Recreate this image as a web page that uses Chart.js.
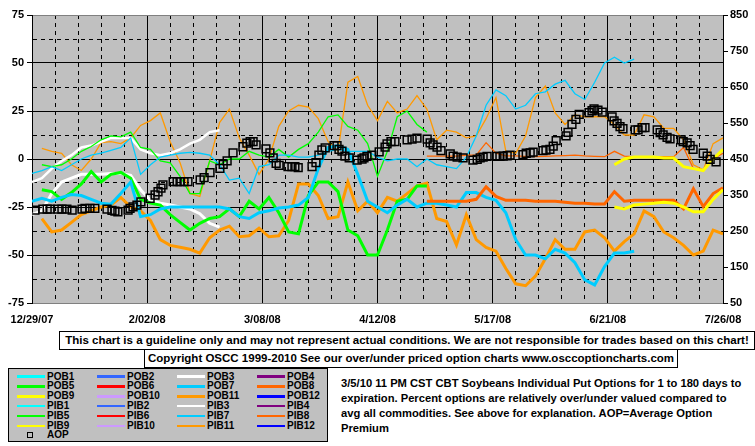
<!DOCTYPE html>
<html lang="en">
<head>
  <meta charset="UTF-8" />
  <title>CBT Soybeans Individual Put Options</title>
  <script src="https://cdn.jsdelivr.net/npm/chart.js"></script>
  <style>
    body {
      margin: 0;
      background: #fff;
      font-family: "Liberation Sans", Arial, sans-serif;
      font-weight: bold;
      color: #000;
    }
    #wrap {
      position: relative;
      width: 755px;
      height: 446px;
      overflow: hidden;
    }
    #chart {
      position: absolute;
      left: 0;
      top: 0;
    }
    .box {
      position: absolute;
      box-sizing: border-box;
      border: 1px solid #000;
      background: #fff;
      font-size: 11.5px;
      line-height: 17px;
      white-space: nowrap;
      text-align: center;
    }
    #legend {
      position: absolute;
      left: 8px;
      top: 368px;
      width: 320px;
      height: 74px;
      box-sizing: border-box;
      border: 1px solid #000;
      background: #c0c0c0;
    }
    .lg-text {
      position: absolute;
      font-size: 10px;
      line-height: 10px;
      white-space: nowrap;
    }
    .lg-line, .lg-box {
      position: absolute;
    }
    #desc {
      position: absolute;
      left: 341px;
      top: 376px;
      font-size: 11.2px;
      line-height: 15px;
      white-space: nowrap;
    }
  </style>
</head>
<body>
  <div id="wrap">
    <canvas id="chart" width="755" height="330"></canvas>
    <div class="box" style="left:59px; top:331px; width:696px; height:19px;">This chart is a guideline only and may not represent actual conditions. We are not responsible for trades based on this chart!</div>
    <div class="box" style="left:144px; top:349px; width:534px; height:19px;">Copyright OSCC 1999-2010 See our over/under priced option charts www.osccoptioncharts.com</div>
    <div id="legend"></div>
    <div id="desc">3/5/10 11 PM CST CBT Soybeans Individual Put Options for 1 to 180 days to<br>expiration. Percent options are relatively over/under valued compared to<br>avg all commodities. See above for explanation. AOP=Average Option<br>Premium</div>
  </div>

  <script>
    // days since 12/29/07, one sample every 3 days
    const days = [0, 3, 6, 9, 12, 15, 18, 21, 24, 27, 30, 33, 36, 39, 42, 45, 48, 51, 54, 57,
      60, 63, 66, 69, 72, 75, 78, 81, 84, 87, 90, 93, 96, 99, 102, 105, 108, 111, 114, 117,
      120, 123, 126, 129, 132, 135, 138, 141, 144, 147, 150, 153, 156, 159, 162, 165, 168, 171, 174, 177,
      180, 183, 186, 189, 192, 195, 198, 201, 204, 207, 210];

    const weekTicks = [0, 7, 14, 21, 28, 35, 42, 49, 56, 63, 70, 77, 84, 91, 98, 105, 112, 119,
      126, 133, 140, 147, 154, 161, 168, 175, 182, 189, 196, 203, 210];
    const dateLabels = ['12/29/07', '2/02/08', '3/08/08', '4/12/08', '5/17/08', '6/21/08', '7/26/08'];
    const leftTicks = [-75, -62.5, -50, -37.5, -25, -12.5, 0, 12.5, 25, 37.5, 50, 62.5, 75];
    const rightTicks = [50, 150, 250, 350, 450, 550, 650, 750, 850];

    // percent over/under valued, each list starts at the given day
    const pob3Start = 0;
    const pob3 = [-29, -27, -18, -12, -10, -8, -8, -8, -7.5, -7.5, -8.5, -16, -21.5, -23, -24, -25, -26, -28.5, -33.5, -35.5];
    const pib3Start = 0;
    const pib3 = [-12, -10, -5, -1, 2, 6, 7, 9, 11, 11, 11, 5, 3, 2, 3, 5, 8, 10, 14, 15];

    const pob5Start = 3;
    const pob5 = [-16, -17, -21, -17.5, -13, -6.5, -12, -8, -7, -10, -21, -23, -24, -29, -33, -37, -33.5, -31, -30, -26,
      -30, -22, -26, -20, -28, -38, -39, -19, -12, -12, -17, -37, -40, -50, -50, -37, -22, -21, -14, -14];
    const pib5Start = 3;
    const pib5 = [-3, -4, -3, 0, 4, 6.5, 10, 12, 11.5, 14, 6, 5, -1, -2, -9, -18, -18, -1, -3, 0,
      0, 4, 2, 1, 5, 1, 5, 8, 14, 22, 23, 17, 15, 8, -9, 4, 22, 25, 18, 14];

    const pob7Start = 0;
    const pob7 = [-22, -20.5, -22, -20, -18.5, -19, -21, -23, -23.5, -18, -12, -30, -29, -26, -25, -25, -25, -25, -25, -25,
      -26, -30, -31, -28, -27, -25.5, -25, -24, -20, -5, 6, 7, 5, -8, -22, -25, -28, -24, -21, -25,
      -23, -23, -24, -25, -17.5, -17.5, -20, -21.5, -28, -42, -50, -50, -52, -47, -49, -54, -63, -65.6, -56, -49,
      -49, -48];
    const pib7Start = 0;
    const pib7 = [-7.5, -6, -4, -6, -3, 0, 2, 3, 4.5, 6, 11, -8, -3, 1, 2, 3, 3.5, 3, 2, -3,
      -11, -10, -18, -4, -3, 2, 2, 1, 1, 2, 4, 5, 4, 4, 4, 1, -1, 0, 0, -4,
      0, -3, -4, -5, 1, 12, 28, 36, 33, 26, 28, 34, 35, 39, 41, 34, 31, 40, 50, 53,
      50, 52];

    const pob8Start = 120;
    const pob8 = [-22, -22, -22, -22, -22, -21, -14.5, -19.5, -21.5, -21.5, -21.5, -22, -22, -22, -22.5, -23, -23, -23.4, -23.4, -17,
      -22, -21.5, -21.5, -21.5, -21.5, -21.5, -26, -15.5, -24.8, -18, -15];
    const pib8Start = 120;
    const pib8 = [1.5, 1.5, 1.5, 1.5, 2, 2, 8.5, 3, 1.6, 1.6, 1.4, 1.2, 1.4, 1.6, 1.8, 2, 1.6, 1.4, 1.2, 4,
      1.5, 1.2, 1.2, 1.2, 1.2, 1.2, 6, -5, -6, 0, 3];

    const pob9Start = 177;
    const pob9 = [-25, -26, -24, -23.5, -23, -22.5, -23, -25, -27.5, -27.5, -21, -16];
    const pib9Start = 177;
    const pib9 = [-3, 0, 1, 1, 1, 0.5, 0.5, -4, -5, -6, 0, 5];

    const pob11Start = 3;
    const pob11 = [-31, -38, -37, -33, -29, -27, -25, -24, -20, -25, -27, -32, -42, -45, -46, -47, -49, -41, -37, -35,
      -40.5, -40, -36, -40.5, -40, -32, -13, -13, -19, -31, -30, -12, -27, -22, -28, -20, -22, -18, -14, -12.5,
      -31, -32.6, -44.8, -29, -42, -46, -48, -57, -65, -66, -61, -52, -42, -47, -47, -38, -37, -41, -48, -43,
      -39, -27, -30, -38, -41, -45, -50, -48, -37, -39];
    const pib11Start = 3;
    const pib11 = [5.5, 4, 3, -3, -6, 0, 8.5, 9, 8, 11, 17.5, 20, 24, 9, -2, -18, -19.5, -1, 19, 26,
      11, 2, -8, 0, 17, 25, 28, 27, 21, 9, 4, 40, 43, 28, 20, 30, 24, 26, 33, 26,
      10, 15, 14, 11, 12, 21, 32, 4, 3, 12, 32, 38, 24, 18, 23, 22, 22, 22, 18, 12.5,
      12.5, 23, 22, 16, 16, 10, -3, -5.7, 8, 11];

    // average option premium (right axis)
    const aopDays = [0.9, 3.3, 4.6, 5.5, 7.9, 9.1, 10.6, 12.2, 15.2, 16.1,
      17.6, 19.1, 22.8, 24.3, 25.2, 26.1, 29.2, 29.8, 30.7, 31.9,
      33.1, 35.9, 37.4, 38.3, 39.2, 39.8, 42.9, 44.1, 45, 46.2,
      47.4, 51.1, 52.3, 54.1, 57.1, 58.1, 59.3, 61.1, 64.1, 65.3,
      66.3, 67.2, 68.1, 71.1, 72.3, 73.3, 74.2, 75.1, 77.8, 79,
      79.9, 80.9, 85.1, 86.3, 87.2, 88.1, 89.1, 91.8, 92.7, 93.3,
      94.2, 95.1, 96.4, 98.8, 100.3, 100.9, 101.8, 103.3, 105.5, 107.3,
      107.9, 109.1, 110.3, 114, 115.5, 117, 120.1, 121, 121.9, 123.1,
      124.3, 127.1, 128, 129.2, 131, 134, 135.3, 136.2, 137.1, 138.3,
      141.3, 142.2, 143.2, 144.4, 145.3, 149.2, 150.2, 151.4, 152.3, 155.3,
      156.2, 157.4, 158.4, 159.3, 162.3, 162.9, 164.1, 165.3, 166.3, 169.3,
      170.2, 170.8, 172, 173.3, 176.3, 176.9, 177.8, 178.7, 179.6, 183.3,
      184.2, 185.4, 186.3, 190, 190.9, 191.8, 193, 193.9, 197.3, 197.9,
      199.1, 200, 200.9, 204, 205.2, 206.1, 207.9];
    const aopValues = [308, 311, 311, 311, 311, 311, 311, 308, 311, 313,
      313, 313, 311, 307, 305, 303, 308, 313, 317, 322,
      331, 341, 350, 359, 369, 378, 387, 387, 387, 387,
      387, 392, 398, 412, 424, 435, 445, 467, 484, 494,
      498, 498, 489, 478, 467, 453, 438, 432, 429, 429,
      429, 426, 429, 440, 461, 475, 481, 487, 487, 477,
      472, 458, 453, 447, 450, 453, 457, 461, 470, 483,
      492, 498, 498, 503, 505, 508, 505, 495, 489, 483,
      473, 464, 458, 455, 453, 447, 449, 453, 455, 457,
      457, 457, 458, 459, 461, 462, 466, 467, 469, 473,
      475, 477, 486, 501, 514, 524, 546, 560, 574, 579,
      584, 589, 586, 580, 567, 556, 549, 540, 534, 531,
      531, 537, 537, 531, 523, 517, 510, 506, 503, 498,
      495, 487, 477, 466, 458, 449, 442];

    // colours for series 1..12 (POBn thick, PIBn thin)
    const lineColors = ['#00FFFF', '#3366FF', '#FFFFFF', '#800080', '#00FF00', '#FF0000',
      '#00CCFF', '#FF6600', '#FFFF00', '#CC99FF', '#FF9900', '#0000FF'];

    function seriesPoints(startDay, values) {
      const i0 = days.indexOf(startDay);
      return values.map((v, i) => ({ x: days[i0 + i], y: v }));
    }

    function lineSet(label, n, startDay, values, width) {
      return {
        label: label,
        data: seriesPoints(startDay, values),
        borderColor: lineColors[n - 1],
        backgroundColor: lineColors[n - 1],
        borderWidth: width,
        pointRadius: 0,
        tension: 0,
        spanGaps: false,
        yAxisID: 'y'
      };
    }

    const datasets = [
      {
        label: 'AOP',
        data: aopDays.map((d, i) => ({ x: d, y: aopValues[i] })),
        yAxisID: 'yR',
        showLine: false,
        pointStyle: 'rect',
        pointRadius: 5.5,
        borderWidth: 1.5,
        borderColor: '#000',
        backgroundColor: 'rgba(0,0,0,0)'
      },
      lineSet('PIB9', 9, pib9Start, pib9, 3),
      lineSet('POB9', 9, pob9Start, pob9, 3),
      lineSet('PIB8', 8, pib8Start, pib8, 1.3),
      lineSet('POB8', 8, pob8Start, pob8, 3),
      lineSet('PIB7', 7, pib7Start, pib7, 1.3),
      lineSet('POB7', 7, pob7Start, pob7, 3),
      lineSet('PIB5', 5, pib5Start, pib5, 1.3),
      lineSet('POB5', 5, pob5Start, pob5, 3),
      lineSet('PIB3', 3, pib3Start, pib3, 2.5),
      lineSet('POB3', 3, pob3Start, pob3, 3),
      lineSet('PIB11', 11, pib11Start, pib11, 1.3),
      lineSet('POB11', 11, pob11Start, pob11, 3)
    ];

    const tickFont = { family: '"Liberation Sans", Arial, sans-serif', size: 11, weight: 'bold' };

    const plotBackground = {
      id: 'plotBackground',
      beforeDraw(chart) {
        const { ctx, chartArea: a } = chart;
        ctx.save();
        ctx.fillStyle = '#C0C0C0';
        ctx.fillRect(a.left, a.top, a.right - a.left, a.bottom - a.top);
        ctx.restore();
      }
    };

    new Chart(document.getElementById('chart'), {
      type: 'line',
      data: { datasets: datasets },
      plugins: [plotBackground],
      options: {
        responsive: false,
        animation: false,
        devicePixelRatio: 1,
        layout: { padding: { top: 15, left: 0, right: 0, bottom: 0 } },
        plugins: {
          legend: { display: false },
          tooltip: { enabled: false }
        },
        scales: {
          x: {
            type: 'linear',
            min: 0,
            max: 210,
            afterBuildTicks: s => { s.ticks = weekTicks.map(v => ({ value: v })); },
            afterFit: s => { s.height = 27; },
            grid: { color: '#000', lineWidth: 1, drawTicks: false },
            border: {
              color: '#808080',
              dash: c => (c.tick && c.tick.value % 35 !== 0) ? [4, 4] : []
            },
            ticks: {
              autoSkip: false,
              maxRotation: 0,
              padding: 10,
              color: '#000',
              font: tickFont,
              callback: v => v % 35 === 0 ? dateLabels[v / 35] : ''
            }
          },
          y: {
            position: 'left',
            min: -75,
            max: 75,
            afterBuildTicks: s => { s.ticks = leftTicks.map(v => ({ value: v })); },
            afterFit: s => { s.width = 32; },
            grid: {
              color: c => (c.tick && Math.abs(c.tick.value) === 75) ? '#808080' : '#000',
              tickLength: 5,
              tickColor: c => (c.tick && c.tick.value % 25 === 0) ? '#000' : 'rgba(0,0,0,0)'
            },
            border: {
              color: '#000',
              dash: c => (c.tick && c.tick.value % 25 !== 0) ? [4, 4] : []
            },
            ticks: {
              padding: 3,
              color: '#000',
              font: tickFont,
              callback: v => v % 25 === 0 ? v : ''
            }
          },
          yR: {
            position: 'right',
            min: 50,
            max: 850,
            afterBuildTicks: s => { s.ticks = rightTicks.map(v => ({ value: v })); },
            afterFit: s => { s.width = 32; },
            grid: { drawOnChartArea: false, tickLength: 5, tickColor: '#000' },
            border: { color: '#000' },
            ticks: { padding: 2, color: '#000', font: tickFont }
          }
        }
      }
    });

    // legend: 4 columns, POB rows then PIB rows, AOP last
    const legendEl = document.getElementById('wrap');
    function addLegendEntry(row, col, label, color, width, square) {
      const yc = 376.5 + row * 9.83;
      const x0 = 17 + col * 80;
      if (square) {
        const b = document.createElement('div');
        b.className = 'lg-box';
        b.style.cssText = 'left:' + (x0 + 10) + 'px;top:' + (yc - 3) + 'px;width:4px;height:4px;border:1px solid #000;';
        legendEl.appendChild(b);
      } else {
        const l = document.createElement('div');
        l.className = 'lg-line';
        l.style.cssText = 'left:' + x0 + 'px;top:' + (yc - width / 2) + 'px;width:28px;height:' + width + 'px;background:' + color + ';';
        legendEl.appendChild(l);
      }
      const t = document.createElement('div');
      t.className = 'lg-text';
      t.style.left = (x0 + 30) + 'px';
      t.style.top = (yc - 5) + 'px';
      t.textContent = label;
      legendEl.appendChild(t);
    }
    for (let r = 0; r < 6; r++) {
      for (let c = 0; c < 4; c++) {
        const n = (r % 3) * 4 + c + 1;
        const thick = r < 3;
        addLegendEntry(r, c, (thick ? 'POB' : 'PIB') + n, lineColors[n - 1], thick ? 3 : 2, false);
      }
    }
    addLegendEntry(6, 0, 'AOP', '#000', 0, true);
  </script>
</body>
</html>
